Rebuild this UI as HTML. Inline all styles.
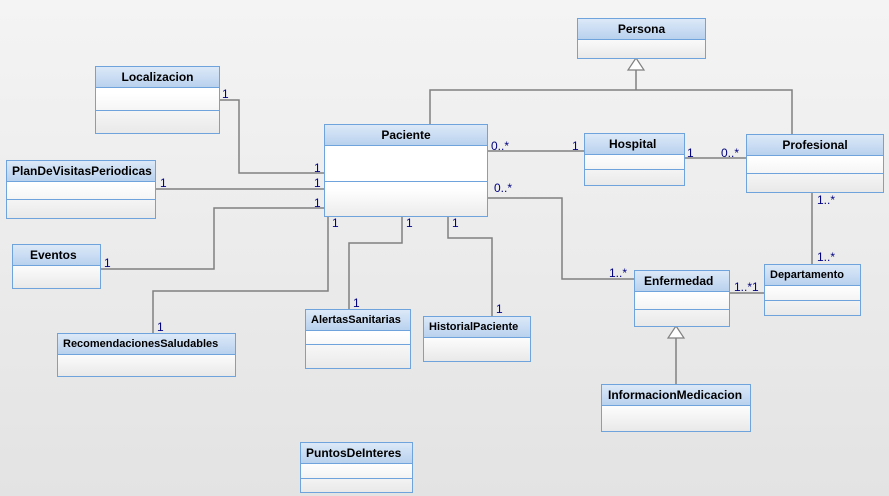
<!DOCTYPE html>
<html><head><meta charset="utf-8"><style>
html,body{margin:0;padding:0}
body{width:889px;height:496px;position:relative;overflow:hidden;background:linear-gradient(#f4f4f4,#e3e3e3);font-family:"Liberation Sans",sans-serif}
.b{position:absolute;border:1px solid #6fa3dc;box-sizing:border-box;background:linear-gradient(#ffffff 40%,#e9e9e9)}
.h{position:absolute;left:0;right:0;top:0;background:linear-gradient(#dce9f8,#b9d1ee);border-bottom:1px solid #6fa3dc;font-weight:bold;font-size:12px;line-height:14px;color:#000;box-sizing:border-box;padding-top:3px;white-space:nowrap;font-family:"Liberation Sans",sans-serif}
.d{position:absolute;left:0;right:0;border-top:1px solid #6fa3dc}
.l{position:absolute;font-size:12px;color:#000080;font-family:"Liberation Sans",sans-serif;line-height:12px}
svg{position:absolute;left:0;top:0}
</style></head><body>
<svg width="889" height="496">
<g stroke="#808080" stroke-width="1.5" fill="none">
<polyline points="636,70 636,90"/>
<polyline points="430,124 430,90 792,90 792,134"/>
<polyline points="219,100 239,100 239,173 324,173"/>
<polyline points="155,189 324,189"/>
<polyline points="101,269 214,269 214,208 324,208"/>
<polyline points="328,216 328,291 153,291 153,333"/>
<polyline points="402,216 402,243 349,243 349,309"/>
<polyline points="448,216 448,238 492,238 492,316"/>
<polyline points="487,151 584,151"/>
<polyline points="684,158 746,158"/>
<polyline points="487,198 562,198 562,279 634,279"/>
<polyline points="812,192 812,264"/>
<polyline points="729,293 764,293"/>
<polyline points="676,338 676,384"/>
</g>
<polygon points="636,58 628,70 644,70" fill="#fff" stroke="#808080" stroke-width="1.2"/>
<polygon points="676,326 668,338 684,338" fill="#fff" stroke="#808080" stroke-width="1.2"/>
</svg>

<div class="b" style="left:577px;top:18px;width:129px;height:41px"><div class="h" style="height:21px;text-align:center">Persona</div></div>
<div class="b" style="left:95px;top:66px;width:125px;height:68px"><div class="h" style="height:21px;text-align:center">Localizacion</div><div class="d" style="top:43px"></div></div>
<div class="b" style="left:324px;top:124px;width:164px;height:93px;background:linear-gradient(#fff 70%,#ececec)"><div class="h" style="height:21px;text-align:center">Paciente</div><div class="d" style="top:56px"></div></div>
<div class="b" style="left:584px;top:133px;width:101px;height:53px"><div class="h" style="height:21px;padding-left:24px">Hospital</div><div class="d" style="top:35px"></div></div>
<div class="b" style="left:746px;top:134px;width:138px;height:59px"><div class="h" style="height:21px;text-align:center">Profesional</div><div class="d" style="top:38px"></div></div>
<div class="b" style="left:6px;top:160px;width:150px;height:59px"><div class="h" style="height:21px;padding-left:5px">PlanDeVisitasPeriodicas</div><div class="d" style="top:38px"></div></div>
<div class="b" style="left:12px;top:244px;width:89px;height:45px"><div class="h" style="height:21px;padding-left:17px">Eventos</div></div>
<div class="b" style="left:634px;top:270px;width:96px;height:57px"><div class="h" style="height:21px;padding-left:9px">Enfermedad</div><div class="d" style="top:38px"></div></div>
<div class="b" style="left:764px;top:264px;width:97px;height:52px"><div class="h" style="height:21px;padding-left:5px;font-size:11px">Departamento</div><div class="d" style="top:35px"></div></div>
<div class="b" style="left:57px;top:333px;width:179px;height:44px"><div class="h" style="height:21px;padding-left:5px;font-size:11px">RecomendacionesSaludables</div></div>
<div class="b" style="left:305px;top:309px;width:106px;height:60px"><div class="h" style="height:21px;padding-left:5px;font-size:11px">AlertasSanitarias</div><div class="d" style="top:34px"></div></div>
<div class="b" style="left:423px;top:316px;width:108px;height:46px"><div class="h" style="height:21px;padding-left:5px;font-size:11px">HistorialPaciente</div></div>
<div class="b" style="left:601px;top:384px;width:150px;height:48px"><div class="h" style="height:21px;padding-left:6px">InformacionMedicacion</div></div>
<div class="b" style="left:300px;top:442px;width:113px;height:51px"><div class="h" style="height:21px;padding-left:5px">PuntosDeInteres</div><div class="d" style="top:35px"></div></div>

<div class="l" style="left:222px;top:88px">1</div>
<div class="l" style="left:314px;top:162px">1</div>
<div class="l" style="left:160px;top:177px">1</div>
<div class="l" style="left:314px;top:177px">1</div>
<div class="l" style="left:314px;top:197px">1</div>
<div class="l" style="left:104px;top:257px">1</div>
<div class="l" style="left:332px;top:217px">1</div>
<div class="l" style="left:406px;top:217px">1</div>
<div class="l" style="left:452px;top:217px">1</div>
<div class="l" style="left:157px;top:321px">1</div>
<div class="l" style="left:353px;top:297px">1</div>
<div class="l" style="left:496px;top:303px">1</div>
<div class="l" style="left:491px;top:140px">0..*</div>
<div class="l" style="left:572px;top:140px">1</div>
<div class="l" style="left:494px;top:182px">0..*</div>
<div class="l" style="left:687px;top:147px">1</div>
<div class="l" style="left:721px;top:147px">0..*</div>
<div class="l" style="left:817px;top:194px">1..*</div>
<div class="l" style="left:817px;top:251px">1..*</div>
<div class="l" style="left:609px;top:267px">1..*</div>
<div class="l" style="left:734px;top:281px">1..*1</div>
</body></html>
